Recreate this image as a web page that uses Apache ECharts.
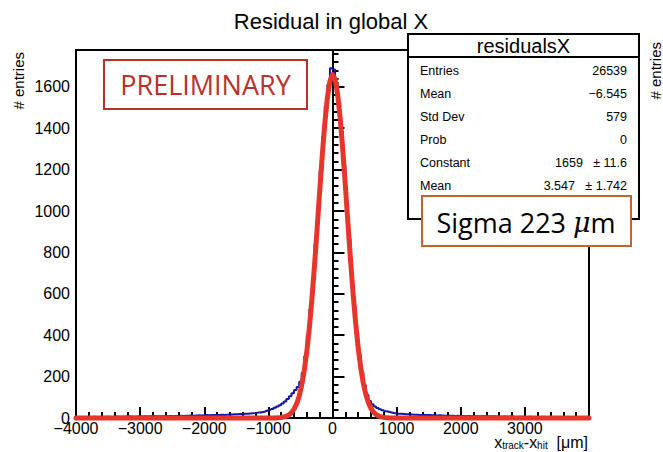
<!DOCTYPE html>
<html><head><meta charset="utf-8">
<script src="https://cdn.jsdelivr.net/npm/echarts@6/dist/echarts.min.js"></script>
<style>html,body{margin:0;padding:0;background:#fff}#c{width:663px;height:452px}</style>
</head><body><div id="c"></div>
<script>
// ---- data ----
const binMin = -4000;
const binWidth = 40;
const counts = [
  // -3980 .. -3020
  4,5,4,5,5,4,6,5,5,6,5,6,6,5,6,7,6,6,7,6,7,7,6,7,8,
  // -2980 .. -2020
  7,8,7,8,8,9,8,9,9,8,9,10,9,10,10,11,10,11,11,12,11,12,13,12,13,
  // -1980 .. -1500
  14,13,14,15,14,15,16,15,16,17,17,18,18,
  // -1460 .. -1020
  19,19,20,21,22,23,24,26,27,29,31,35,
  // -980 .. -20
  40,44,49,55,62,70,80,92,105,120,135,150,175,218,298,398,525,675,840,1015,1195,1360,1505,1610,1690,
  // 20 .. 980
  1684,1622,1525,1385,1220,1045,865,695,540,410,305,222,158,112,82,66,56,48,42,37,33,30,27,24,22,
  // 1020 .. 1460
  21,20,19,18,18,17,16,16,15,15,14,14,
  // 1500 .. 1980
  14,13,13,12,13,12,11,12,11,11,10,11,10,
  // 2020 .. 2980
  10,9,10,9,9,8,9,8,8,7,8,7,8,7,7,6,7,6,7,6,6,5,6,6,5,
  // 3020 .. 3980
  5,6,5,5,4,5,5,4,5,4,4,5,4,4,3,4,4,3,4,3,4,3,3,4,3
];
const fitX = [-4000,-1000,-900,
  -800,-760,-720,-680,-640,-600,-560,-520,-480,-440,-400,-360,-320,-280,-240,-200,-160,-120,-80,-40,
  0,40,80,120,160,200,240,280,320,360,400,440,480,520,560,600,640,680,720,760,800,
  900,1000,4000];
const fitY = [0,0,0.3,
  2.5,4.7,8.6,15,26,43,68,105.5,158,230,323,439,579,739,914,1094,1268,1423,1547,1628,
  1659,1637,1564,1447,1297,1125,945,769,606,462,341,244,169,113,73.6,46,28,16.6,9.5,5.3,2.8,
  0.3,0,0];
const xTickValues = [-4000,-3000,-2000,-1000,0,1000,2000,3000];
const yTickValues = [0,200,400,600,800,1000,1200,1400,1600];
const statsTitle = 'residualsX';
const statsLabels = ['Entries','Mean','Std Dev','Prob','Constant','Mean'];
const statsValues = ['26539','\u22126.545','579','0','1659','3.547'];
const statsErrors = ['','','','','\u00b1 11.6','\u00b1 1.742'];
const chartTitle = 'Residual in global X';
const yTitle = '# entries';
const sigmaText = 'Sigma 223 ';
const prelimText = 'PRELIMINARY';

// ---- build ----
const histData = counts.map((v, i) => [binMin + i * binWidth, v]);
histData.push([binMin + counts.length * binWidth, counts[counts.length - 1]]);
const fitData = fitX.map((x, i) => [x, fitY[i]]);

const ROOTFONT = 'Liberation Sans';
const chart = echarts.init(document.getElementById('c'), null, {renderer: 'svg'});

const graphics = [];
graphics.push({type:'text', x:331, y:21, z:50, style:{text:chartTitle, font:'22px "Liberation Sans"', fill:'#000', align:'center', verticalAlign:'middle'}});
graphics.push({type:'text', x:18, y:52, rotation:Math.PI/2, z:50, style:{text:yTitle, font:'15px "Liberation Sans"', fill:'#000', align:'right', verticalAlign:'middle'}});
graphics.push({type:'text', x:655, y:42, rotation:Math.PI/2, z:50, style:{text:yTitle, font:'15px "Liberation Sans"', fill:'#000', align:'right', verticalAlign:'middle'}});
graphics.push({type:'text', x:588, y:442, z:50, style:{
  text:'{a|x}{s|track}{a|-x}{s|hit}{a|  [\u03bcm]}',
  rich:{a:{fontSize:16, fontFamily:ROOTFONT, fill:'#000', lineHeight:16, verticalAlign:'middle'},
        s:{fontSize:10, fontFamily:ROOTFONT, fill:'#000', lineHeight:8, verticalAlign:'bottom'}},
  align:'right', verticalAlign:'middle'}});
// PRELIMINARY box
graphics.push({type:'rect', z:60, shape:{x:104, y:60, width:203, height:49}, style:{fill:'#fff', stroke:'#b3332b', lineWidth:2}});
graphics.push({type:'text', z:61, x:205.5, y:84.5, style:{text:prelimText, font:'27px "Open Sans"', fill:'#b8322a', align:'center', verticalAlign:'middle'}});
// stats box
graphics.push({type:'rect', z:70, shape:{x:408, y:34, width:231, height:185}, style:{fill:'#fff', stroke:'#000', lineWidth:2}});
graphics.push({type:'line', z:71, shape:{x1:408, y1:57, x2:639, y2:57}, style:{stroke:'#000', lineWidth:2}});
graphics.push({type:'text', z:71, x:523.5, y:46, style:{text:statsTitle, font:'20px "Liberation Sans"', fill:'#000', align:'center', verticalAlign:'middle'}});
statsLabels.forEach((lab, i) => {
  const y = 70.7 + i * 23.1;
  graphics.push({type:'text', z:71, x:420, y:y, style:{text:lab, font:'12.5px "Liberation Sans"', fill:'#000', align:'left', verticalAlign:'middle'}});
  const val = statsErrors[i] ? statsValues[i] + '   ' + statsErrors[i] : statsValues[i];
  graphics.push({type:'text', z:71, x:627, y:y, style:{text:val, font:'12.5px "Liberation Sans"', fill:'#000', align:'right', verticalAlign:'middle'}});
});
// sigma box
graphics.push({type:'rect', z:80, shape:{x:422, y:196, width:209, height:50}, style:{fill:'#fff', stroke:'#c0652f', lineWidth:2}});
graphics.push({type:'text', z:81, x:526, y:222, style:{
  text:'{n|' + sigmaText + '}{m|\u03bc}{n|m}',
  rich:{n:{fontSize:27, fontFamily:'Open Sans', fill:'#000'}, m:{fontSize:27, fontFamily:'DejaVu Serif', fontStyle:'italic', fill:'#000'}},
  align:'center', verticalAlign:'middle'}});

const option = {
  animation: false,
  backgroundColor: '#fff',
  grid: {left:76, right:74, top:50, bottom:34, show:true, borderColor:'#000', borderWidth:2, backgroundColor:'transparent'},
  xAxis: {
    type:'value', min:-4000, max:4000, interval:1000,
    axisLine:{show:true, onZero:false, lineStyle:{color:'#000', width:2}},
    axisTick:{show:true, inside:true, length:11, lineStyle:{color:'#000', width:2}},
    minorTick:{show:true, splitNumber:5, length:6, lineStyle:{color:'#000', width:2}},
    splitLine:{show:false},
    axisLabel:{show:true, showMaxLabel:false, margin:2, fontSize:16, fontFamily:ROOTFONT, color:'#000',
      formatter: v => xTickValues.includes(v) ? String(v).replace('-', '\u2212') : ''}
  },
  yAxis: {
    type:'value', min:0, max:1778, interval:200,
    axisLine:{show:true, lineStyle:{color:'#000', width:2}},
    axisTick:{show:true, inside:true, length:12, lineStyle:{color:'#000', width:2}},
    minorTick:{show:true, splitNumber:5, length:6, lineStyle:{color:'#000', width:2}},
    splitLine:{show:false},
    axisLabel:{show:true, showMaxLabel:false, margin:6, fontSize:16, fontFamily:ROOTFONT, color:'#000',
      formatter: v => yTickValues.includes(v) ? String(v) : ''}
  },
  series: [
    {type:'line', data:histData, step:'end', showSymbol:false, clip:false, z:3,
     lineStyle:{color:'#16169b', width:2}, itemStyle:{color:'#16169b'}},
    {type:'line', data:fitData, showSymbol:false, clip:false, z:4, smooth:false,
     lineStyle:{color:'#e8352b', width:5, join:'round', cap:'round'}, itemStyle:{color:'#e8352b'}}
  ],
  graphic: graphics
};
chart.setOption(option);
</script>
</body></html>
